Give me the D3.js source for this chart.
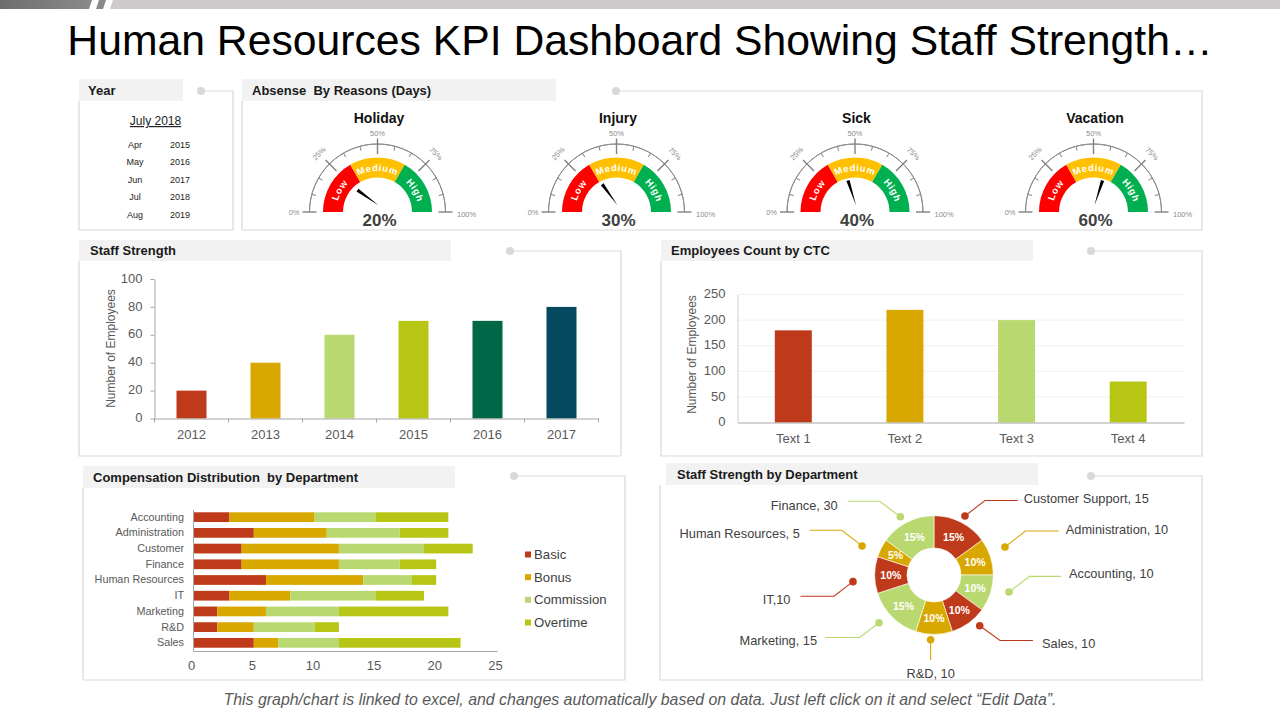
<!DOCTYPE html>
<html>
<head>
<meta charset="utf-8">
<script src="https://cdn.jsdelivr.net/npm/d3@7"></script>
<style>
  html, body { margin: 0; padding: 0; background: #fff; }
  svg { display: block; font-family: "Liberation Sans", Arial, sans-serif; }
  svg text { white-space: pre; }
</style>
</head>
<body>
<svg id="dash" width="1280" height="720"></svg>
<script>
// ---- data ----
const monthRows = ["Apr", "May", "Jun", "Jul", "Aug"];
const yearRows = ["2015", "2016", "2017", "2018", "2019"];

const gaugeNames = ["Holiday", "Injury", "Sick", "Vacation"];
const gaugeValues = [20, 30, 40, 60];
const gaugeBands = ["Low", "Medium", "High"];

const staffYears = ["2012", "2013", "2014", "2015", "2016", "2017"];
const staffValues = [20, 40, 60, 70, 70, 80];

const ctcLabels = ["Text 1", "Text 2", "Text 3", "Text 4"];
const ctcValues = [180, 220, 200, 80];

const compDepartments = ["Accounting", "Administration", "Customer", "Finance", "Human Resources", "IT", "Marketing", "R&D", "Sales"];
const compSeries = ["Basic", "Bonus", "Commission", "Overtime"];
const compBasic = [3, 5, 4, 4, 6, 3, 2, 2, 5];
const compBonus = [7, 6, 8, 8, 8, 5, 4, 3, 2];
const compCommission = [5, 6, 7, 5, 4, 7, 6, 5, 5];
const compOvertime = [6, 4, 4, 3, 2, 4, 9, 2, 10];

const deptLabels = ["Customer Support, 15", "Administration, 10", "Accounting, 10", "Sales, 10", "R&D, 10", "Marketing, 15", "IT,10", "Human Resources, 5", "Finance, 30"];
const deptShares = [15, 10, 10, 10, 10, 15, 10, 5, 15];

// ---- colours ----
const RED = "#bf3a1a", GOLD = "#d9a800", LIME = "#b9d970", OLIVE = "#b7c615";
const staffColors = [RED, GOLD, LIME, OLIVE, "#006747", "#05495f"];
const deptColors = [RED, GOLD, LIME, RED, GOLD, LIME, RED, GOLD, LIME];
const bandColors = ["#ff0000", "#ffc000", "#00b050"];

const svg = d3.select("#dash");

// top strip
svg.append("rect").attr("x", 0).attr("y", 0).attr("width", 1280).attr("height", 9).attr("fill", "#cdcbcb");
const grad = svg.append("defs").append("linearGradient").attr("id", "strip");
grad.append("stop").attr("offset", "0%").attr("stop-color", "#6e6e6e");
grad.append("stop").attr("offset", "100%").attr("stop-color", "#8a8a8a");
svg.append("path").attr("d", "M0,0H113L110,9H0Z").attr("fill", "#fff");
svg.append("path").attr("d", "M0,0H92L89,9H0Z").attr("fill", "url(#strip)");
svg.append("path").attr("d", "M99,0H106L103,9H96Z").attr("fill", "#8a8a8a");

svg.append("text").attr("x", 640).attr("y", 55).attr("text-anchor", "middle")
  .attr("font-size", 42.7).attr("fill", "#000")
  .text("Human Resources KPI Dashboard Showing Staff Strength\u2026");

svg.append("text").attr("x", 640).attr("y", 705).attr("text-anchor", "middle")
  .attr("font-size", 15.9).attr("font-style", "italic").attr("fill", "#595959")
  .text("This graph/chart is linked to excel, and changes automatically based on data. Just left click on it and select \u201cEdit Data\u201d.");

// panel frame: header tab, connector dot and thin border
function panel(title, x, y, w, h, tabX, tabW, tabY, tabH, dotX, textX) {
  svg.append("path")
    .attr("d", `M${dotX},${y}H${x + w}V${y + h}H${x}V${tabY + tabH}`)
    .attr("fill", "none").attr("stroke", "#d9d9d9").attr("stroke-width", 1.2);
  svg.append("circle").attr("cx", dotX).attr("cy", y).attr("r", 4).attr("fill", "#d9d9d9");
  svg.append("rect").attr("x", tabX).attr("y", tabY).attr("width", tabW).attr("height", tabH).attr("fill", "#f2f2f2");
  svg.append("text").attr("x", textX).attr("y", tabY + tabH / 2 + 4.5)
    .attr("font-size", 13).attr("font-weight", "bold").attr("fill", "#1a1a1a").text(title);
}

panel("Year", 79, 91, 154, 139, 79, 104, 79, 22, 201, 88);
panel("Absense  By Reasons (Days)", 242, 91, 960, 139, 242, 314, 79, 22, 616, 252);
panel("Staff Strength", 79, 251, 542, 205, 79, 372, 240, 21, 510, 90);
panel("Employees Count by CTC", 661, 251, 541, 205, 661, 372, 240, 21, 1091, 671);
panel("Compensation Distribution  by Department", 83, 476, 542, 204, 83, 372, 466, 22, 514, 93);
panel("Staff Strength by Department", 660, 476, 542, 204, 666, 372, 463, 22, 1091, 677);

// ---- year picker ----
const yearG = svg.append("g");
yearG.append("text").attr("x", 155.5).attr("y", 125).attr("text-anchor", "middle")
  .attr("font-size", 12).attr("text-decoration", "underline").attr("fill", "#222").text("July 2018");
const rowY = d3.scalePoint().domain(monthRows).range([144, 214.5]);
monthRows.forEach((m, i) => {
  yearG.append("text").attr("x", 135).attr("y", rowY(m) + 3.5).attr("text-anchor", "middle")
    .attr("font-size", 9).attr("fill", "#222").text(m);
  yearG.append("text").attr("x", 180).attr("y", rowY(m) + 3.5).attr("text-anchor", "middle")
    .attr("font-size", 9).attr("fill", "#222").text(yearRows[i]);
});

// ---- gauges ----
function gauge(name, value, cx) {
  const cy = 212;
  const g = svg.append("g").attr("transform", `translate(${cx},${cy})`);
  const angle = d3.scaleLinear().domain([0, 100]).range([-90, 90]);
  const rad = d => angle(d) * Math.PI / 180;
  const polar = (d, r) => [r * Math.sin(rad(d)), -r * Math.cos(rad(d))];

  g.append("text").attr("x", 1.5).attr("y", -89).attr("text-anchor", "middle")
    .attr("font-size", 14).attr("font-weight", "bold").attr("fill", "#111").text(name);

  // coloured bands with curved labels
  const bandArc = d3.arc().innerRadius(34.5).outerRadius(54.5);
  const bandScale = d3.scaleBand().domain(gaugeBands).range([0, 100]);
  gaugeBands.forEach((b, i) => {
    const a0 = rad(bandScale(b)), a1 = rad(bandScale(b) + bandScale.bandwidth());
    g.append("path").attr("d", bandArc({ startAngle: a0, endAngle: a1 })).attr("fill", bandColors[i]);
    const id = "lab-" + name + "-" + b;
    const lr = 41;
    g.append("path").attr("id", id).attr("fill", "none")
      .attr("d", d3.arc().innerRadius(lr).outerRadius(lr)({ startAngle: a0, endAngle: a1 }));
    g.append("text").attr("font-size", 9.5).attr("font-weight", "bold").attr("fill", "#fff").attr("letter-spacing", 0.6)
      .append("textPath").attr("href", "#" + id).attr("startOffset", "25%").attr("text-anchor", "middle").text(b);
  });

  // scale arc and ticks
  g.append("path").attr("fill", "none").attr("stroke", "#8c8c8c").attr("stroke-width", 1)
    .attr("d", d3.arc().innerRadius(68).outerRadius(68)({ startAngle: -Math.PI / 2, endAngle: Math.PI / 2 }));
  d3.range(0, 100.1, 100 / 12).forEach(t => {
    const major = Math.round(t * 100) % 2500 === 0;
    const edge = t === 0 || t > 99.9;
    const p0 = polar(t, major ? (edge ? 61 : 58) : 63.5), p1 = polar(t, major ? (edge ? 75 : 73.5) : 68);
    g.append("line").attr("x1", p0[0]).attr("y1", p0[1]).attr("x2", p1[0]).attr("y2", p1[1])
      .attr("stroke", "#808080").attr("stroke-width", major ? 1.4 : 1);
  });
  [25, 50, 75].forEach(t => {
    const p = polar(t, t === 50 ? 76 : 80);
    g.append("text").attr("font-size", 7.5).attr("fill", "#8c8c8c").attr("text-anchor", "middle")
      .attr("transform", `translate(${p[0]},${p[1]}) rotate(${t === 50 ? 0 : angle(t)})`).text(t + "%");
  });
  g.append("text").attr("x", -78).attr("y", 2.5).attr("font-size", 7.5).attr("fill", "#8c8c8c").attr("text-anchor", "end").text("0%");
  g.append("text").attr("x", 79.5).attr("y", 5).attr("font-size", 7.5).attr("fill", "#8c8c8c").text("100%");

  // needle: thin wedge, widest at the tip
  const a = angle(value);
  g.append("path").attr("transform", `translate(1,-6.7) rotate(${a})`)
    .attr("d", "M0,0L1.7,-26L-1.7,-26Z").attr("fill", "#000");

  g.append("text").attr("x", 2).attr("y", 14).attr("text-anchor", "middle")
    .attr("font-size", 17).attr("font-weight", "bold").attr("fill", "#404040").text(value + "%");
}
const gaugeX = d3.scaleOrdinal().domain(gaugeNames).range([377.5, 616.5, 855, 1093.5]);
gaugeNames.forEach((n, i) => gauge(n, gaugeValues[i], gaugeX(n)));

// ---- vertical bar charts ----
function styleAxis(g, size, color) {
  g.selectAll("text").attr("font-size", size).attr("fill", color || "#595959").attr("font-family", "Liberation Sans");
  g.selectAll("path,line").attr("stroke", "#a6a6a6");
}

function barChart(cfg) {
  const x = d3.scaleBand().domain(cfg.labels).range(cfg.xr);
  const y = d3.scaleLinear().domain([0, cfg.max]).range(cfg.yr);
  if (cfg.grid) {
    svg.append("g").selectAll("line").data(y.ticks(5).slice(1)).join("line")
      .attr("x1", cfg.xr[0]).attr("x2", cfg.xr[1]).attr("y1", d => y(d)).attr("y2", d => y(d))
      .attr("stroke", "#f0f0f0");
  }
  svg.append("g").selectAll("rect").data(cfg.values).join("rect")
    .attr("x", (d, i) => x(cfg.labels[i]) + (x.bandwidth() - cfg.barW) / 2)
    .attr("y", d => y(d)).attr("width", cfg.barW).attr("height", d => y(0) - y(d))
    .attr("fill", (d, i) => cfg.colors[i]);
  const xa = svg.append("g").attr("transform", `translate(0,${cfg.yr[0]})`)
    .call(d3.axisBottom(x).tickSize(0).tickPadding(11));
  xa.selectAll(".tick line").remove();
  if (cfg.xTicks) {
    xa.selectAll(".edge").data(cfg.labels.concat("end")).join("line")
      .attr("x1", (d, i) => cfg.xr[0] + i * x.step()).attr("x2", (d, i) => cfg.xr[0] + i * x.step())
      .attr("y1", 0).attr("y2", 4);
  }
  styleAxis(xa, 13);
  const ya = svg.append("g").attr("transform", `translate(${cfg.xr[0]},0)`)
    .call(d3.axisLeft(y).ticks(5).tickSize(cfg.grid ? 0 : 4).tickPadding(cfg.grid ? 12 : 8).tickSizeOuter(0));
  styleAxis(ya, 13);
  ya.selectAll(".tick text").attr("y", -1);
  if (cfg.grid) ya.select(".domain").attr("stroke", "#d0d0d0");
  svg.append("text").attr("transform", `translate(${cfg.titleX},${cfg.titleY}) rotate(-90)`)
    .attr("text-anchor", "middle").attr("font-size", 12).attr("fill", "#595959").text("Number of Employees");
}

barChart({ labels: staffYears, values: staffValues, colors: staffColors, max: 100,
  xr: [154.5, 598.5], yr: [418.5, 279], barW: 30, titleX: 115, titleY: 348.5, xTicks: true });
barChart({ labels: ctcLabels, values: ctcValues, colors: staffColors, max: 250,
  xr: [737.5, 1184], yr: [422.5, 294.5], barW: 37, titleX: 696, titleY: 354.5, grid: true });

// ---- stacked compensation bars ----
(function () {
  const rows = compDepartments.map((d, i) => ({
    dept: d, Basic: compBasic[i], Bonus: compBonus[i], Commission: compCommission[i], Overtime: compOvertime[i]
  }));
  const stack = d3.stack().keys(compSeries)(rows);
  const x = d3.scaleLinear().domain([0, 25]).range([193, 497]);
  const y = d3.scaleBand().domain(compDepartments).range([509.3, 650.7]).paddingInner(0.38).paddingOuter(0.19);
  const color = d3.scaleOrdinal().domain(compSeries).range([RED, GOLD, LIME, OLIVE]);
  svg.append("g").selectAll("g").data(stack).join("g").attr("fill", s => color(s.key))
    .selectAll("rect").data(s => s).join("rect")
    .attr("x", d => x(d[0])).attr("width", d => x(d[1]) - x(d[0]))
    .attr("y", d => y(d.data.dept)).attr("height", y.bandwidth());
  const xa = svg.append("g").attr("transform", "translate(0,651)")
    .call(d3.axisBottom(x).ticks(5).tickSize(0).tickPadding(10));
  styleAxis(xa, 13);
  xa.selectAll(".tick text").attr("dx", -2);
  const ya = svg.append("g").attr("transform", "translate(193,0)")
    .call(d3.axisLeft(y).tickSize(0).tickPadding(9));
  styleAxis(ya, 10.8);
  const legY = d3.scalePoint().domain(compSeries).range([554.5, 622.5]);
  compSeries.forEach(s => {
    svg.append("rect").attr("x", 525).attr("y", legY(s) - 3).attr("width", 6).attr("height", 6).attr("fill", color(s));
    svg.append("text").attr("x", 534).attr("y", legY(s) + 4.5).attr("font-size", 13.2).attr("fill", "#404040").text(s);
  });
})();

// ---- donut ----
(function () {
  const cx = 934, cy = 575;
  const g = svg.append("g").attr("transform", `translate(${cx},${cy})`);
  const arcs = d3.pie().sort(null)(deptShares);
  const arc = d3.arc().innerRadius(27).outerRadius(59.3);
  g.selectAll("path").data(arcs).join("path").attr("d", arc)
    .attr("fill", (d, i) => deptColors[i]).attr("stroke", "#fff").attr("stroke-width", 0.6);
  g.selectAll("text.pct").data(arcs).join("text").attr("class", "pct")
    .attr("transform", d => `translate(${arc.centroid(d)})`).attr("dy", 4)
    .attr("text-anchor", "middle").attr("font-size", 10.5).attr("font-weight", "bold").attr("fill", "#fff")
    .text(d => d.value + "%");

  // callouts: dot radius, angle nudge (deg), elbow dx/dy from dot, line end dx from dot, label gap, label dy
  const callouts = [
    [66.6, 0.7, 20, -15.5, 52.7, 6, -2.5],
    [76.3, -3.5, 20.4, -16, 53.8, 7, -2],
    [76.9, -5.2, 20.6, -15.7, 52, 8, -3.3],
    [68.3, -6, 20.3, 14.7, 53.3, 9, 3],
    [64.8, 3, 0, 20.3, 0, 0, 13.5],
    [72.8, 4, -19.4, 14.7, -54, -8, 3],
    [81.3, -4.7, -19, 14.6, -52.5, -10, 3.7],
    [77.6, -5, -20.3, -15.7, -52.3, -10, 3.7],
    [67.3, -3, -20.7, -15.4, -52.7, -10, 3.7]
  ];
  arcs.forEach((d, i) => {
    const c = callouts[i];
    const mid = (d.startAngle + d.endAngle) / 2 + c[1] * Math.PI / 180;
    const dx = c[0] * Math.sin(mid), dy = -c[0] * Math.cos(mid);
    const col = deptColors[i];
    g.append("path").attr("fill", "none").attr("stroke", col).attr("stroke-width", 1.1)
      .attr("d", `M${dx},${dy}L${dx + c[2]},${dy + c[3]}L${dx + c[4]},${dy + c[3]}`);
    g.append("circle").attr("cx", dx).attr("cy", dy).attr("r", 3.8).attr("fill", col);
    const anchor = c[5] > 0 ? "start" : c[5] < 0 ? "end" : "middle";
    g.append("text").attr("x", dx + c[4] + c[5]).attr("y", dy + c[3] + c[6]).attr("dy", "0.35em")
      .attr("text-anchor", anchor).attr("font-size", 12.8).attr("fill", "#404040").text(deptLabels[i]);
  });
})();
</script>
</body>
</html>
